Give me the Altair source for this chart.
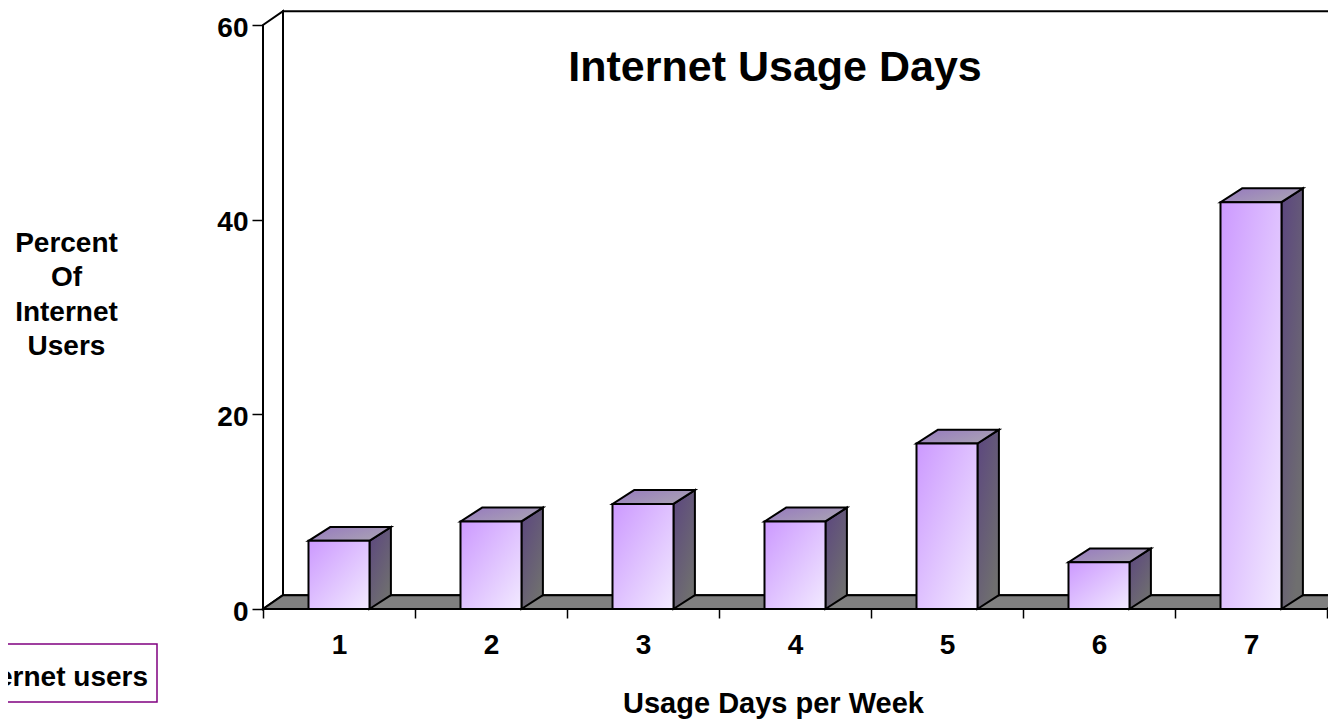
import altair as alt
import pandas as pd

days = ["1", "2", "3", "4", "5", "6", "7"]
percent = [7, 9, 10.8, 9, 17, 4.8, 41.8]
y_ticks = [0, 20, 40, 60]
y_title = ["Percent", "Of", "Internet", "Users"]
x_title = "Usage Days per Week"
chart_title = "Internet Usage Days"
legend_label = "Internet users"

FONT = "Liberation Sans"
EDGE = 2
DX_WALL, DX_BAR, DY = 20 / 152, 21.5 / 152, 1.42
HALF = 0.2
N = len(days)
INK = "#000000"


def gradient(c0, c1, x2=1, y2=1):
    return alt.Gradient(
        gradient="linear", x1=0, y1=0, x2=x2, y2=y2,
        stops=[alt.GradientStop(offset=0, color=c0), alt.GradientStop(offset=1, color=c1)],
    )


xq = alt.Scale(domain=[0, N], nice=False, zero=False)
yq = alt.Scale(domain=[0, 60], nice=False, zero=False)

side_rows, top_rows = [], []
for i, (d, v) in enumerate(zip(days, percent)):
    left, right = i + 0.5 - HALF, i + 0.5 + HALF
    side_rows += [
        dict(day=d, x=right, lo=0, hi=v),
        dict(day=d, x=right + DX_BAR, lo=DY, hi=v + DY),
    ]
    top_rows += [
        dict(day=d, y=v, x=left, x2=right),
        dict(day=d, y=v + DY, x=left + DX_BAR, x2=right + DX_BAR),
    ]

side_df = pd.DataFrame(side_rows)
top_df = pd.DataFrame(top_rows)
floor_df = pd.DataFrame([dict(day="f", y=0, x=0, x2=N), dict(day="f", y=DY, x=DX_WALL, x2=N + DX_WALL)])
lwall_df = pd.DataFrame([dict(day="l", x=0, lo=0, hi=60), dict(day="l", x=DX_WALL, lo=DY, hi=60 + DY)])
bwall_df = pd.DataFrame([dict(day="b", x=DX_WALL, lo=DY, hi=60 + DY), dict(day="b", x=N + DX_WALL, lo=DY, hi=60 + DY)])
bars_df = pd.DataFrame({"day": days, "percent": percent})


def vert(df, fill):
    return alt.Chart(df).mark_area(fill=fill, stroke=INK, strokeWidth=EDGE, orient="vertical").encode(
        x=alt.X("x:Q", scale=xq, axis=None),
        y=alt.Y("lo:Q", scale=yq, axis=None),
        y2="hi:Q",
        detail="day:N",
    )


def horiz(df, fill):
    return alt.Chart(df).mark_area(fill=fill, stroke=INK, strokeWidth=EDGE, orient="horizontal").encode(
        y=alt.Y("y:Q", scale=yq, axis=None),
        x=alt.X("x:Q", scale=xq, axis=None),
        x2="x2:Q",
        detail="day:N",
    )


bwall = vert(bwall_df, "#ffffff")
lwall = vert(lwall_df, "#ffffff")
floor = horiz(floor_df, "#808080")
side = vert(side_df, gradient("#5c4680", "#6f6f6f", 0.6, 1))
top = horiz(top_df, gradient("#9678c0", "#a8a0b4", 1, 0.6))

front = alt.Chart(bars_df).mark_bar(
    size=61,
    fill=gradient("#cc99ff", "#f2eaff"),
    stroke=INK,
    strokeWidth=EDGE,
).encode(
    x=alt.X(
        "day:N",
        sort=days,
        scale=alt.Scale(paddingInner=0, paddingOuter=0),
        axis=alt.Axis(
            tickBand="extent", labelAngle=0, domain=False, ticks=True, tickSize=9, tickWidth=1.5,
            tickColor=INK, labelFont=FONT, labelFontSize=28, labelFontWeight="bold", labelColor=INK,
            labelPadding=13, title=x_title, titleFont=FONT, titleFontSize=29, titleFontWeight="bold",
            titleColor=INK, titleX=510, titleY=103, titleAlign="center", titleBaseline="alphabetic",
        ),
    ),
    y=alt.Y(
        "percent:Q",
        scale=yq,
        axis=alt.Axis(
            values=y_ticks, domain=True, domainColor=INK, domainWidth=2, ticks=True, tickSize=11,
            tickWidth=1.5, tickColor=INK, grid=False, labelFont=FONT, labelFontSize=28,
            labelFontWeight="bold", labelColor=INK, labelPadding=4, labelOffset=3, title=y_title,
            titleAngle=0, titleFont=FONT, titleFontSize=28, titleFontWeight="bold", titleColor=INK,
            titleX=-197, titleY=226, titleAlign="center", titleBaseline="alphabetic", titleLineHeight=34.5,
        ),
    ),
)

legend_box = alt.Chart(pd.DataFrame({"k": [0]})).mark_rect(fill="#ffffff", stroke="#800080", strokeWidth=1.5).encode(
    x=alt.value(-320), x2=alt.value(-106), y=alt.value(619), y2=alt.value(677),
)
legend_text = alt.Chart(pd.DataFrame({"t": [legend_label]})).mark_text(
    font=FONT, fontSize=28, fontWeight="bold", color=INK, align="right", baseline="alphabetic",
).encode(text="t:N", x=alt.value(-115), y=alt.value(661))

chart = (
    alt.layer(bwall, lwall, floor, side, top, front, legend_box, legend_text)
    .resolve_scale(x="independent")
    .resolve_axis(y="independent")
    .properties(
        width=1064,
        height=584,
        padding={"left": 255, "top": 17, "right": 1, "bottom": 110},
        autosize=alt.AutoSizeParams(type="none"),
        background="#ffffff",
        title=alt.TitleParams(
            chart_title, font=FONT, fontSize=43, fontWeight="bold", color=INK, anchor="middle",
            dx=-20, offset=-117, baseline="alphabetic",
        ),
    )
    .configure_view(stroke=None)
)

chart.save("out.html", embed_options={"renderer": "svg", "actions": False})
